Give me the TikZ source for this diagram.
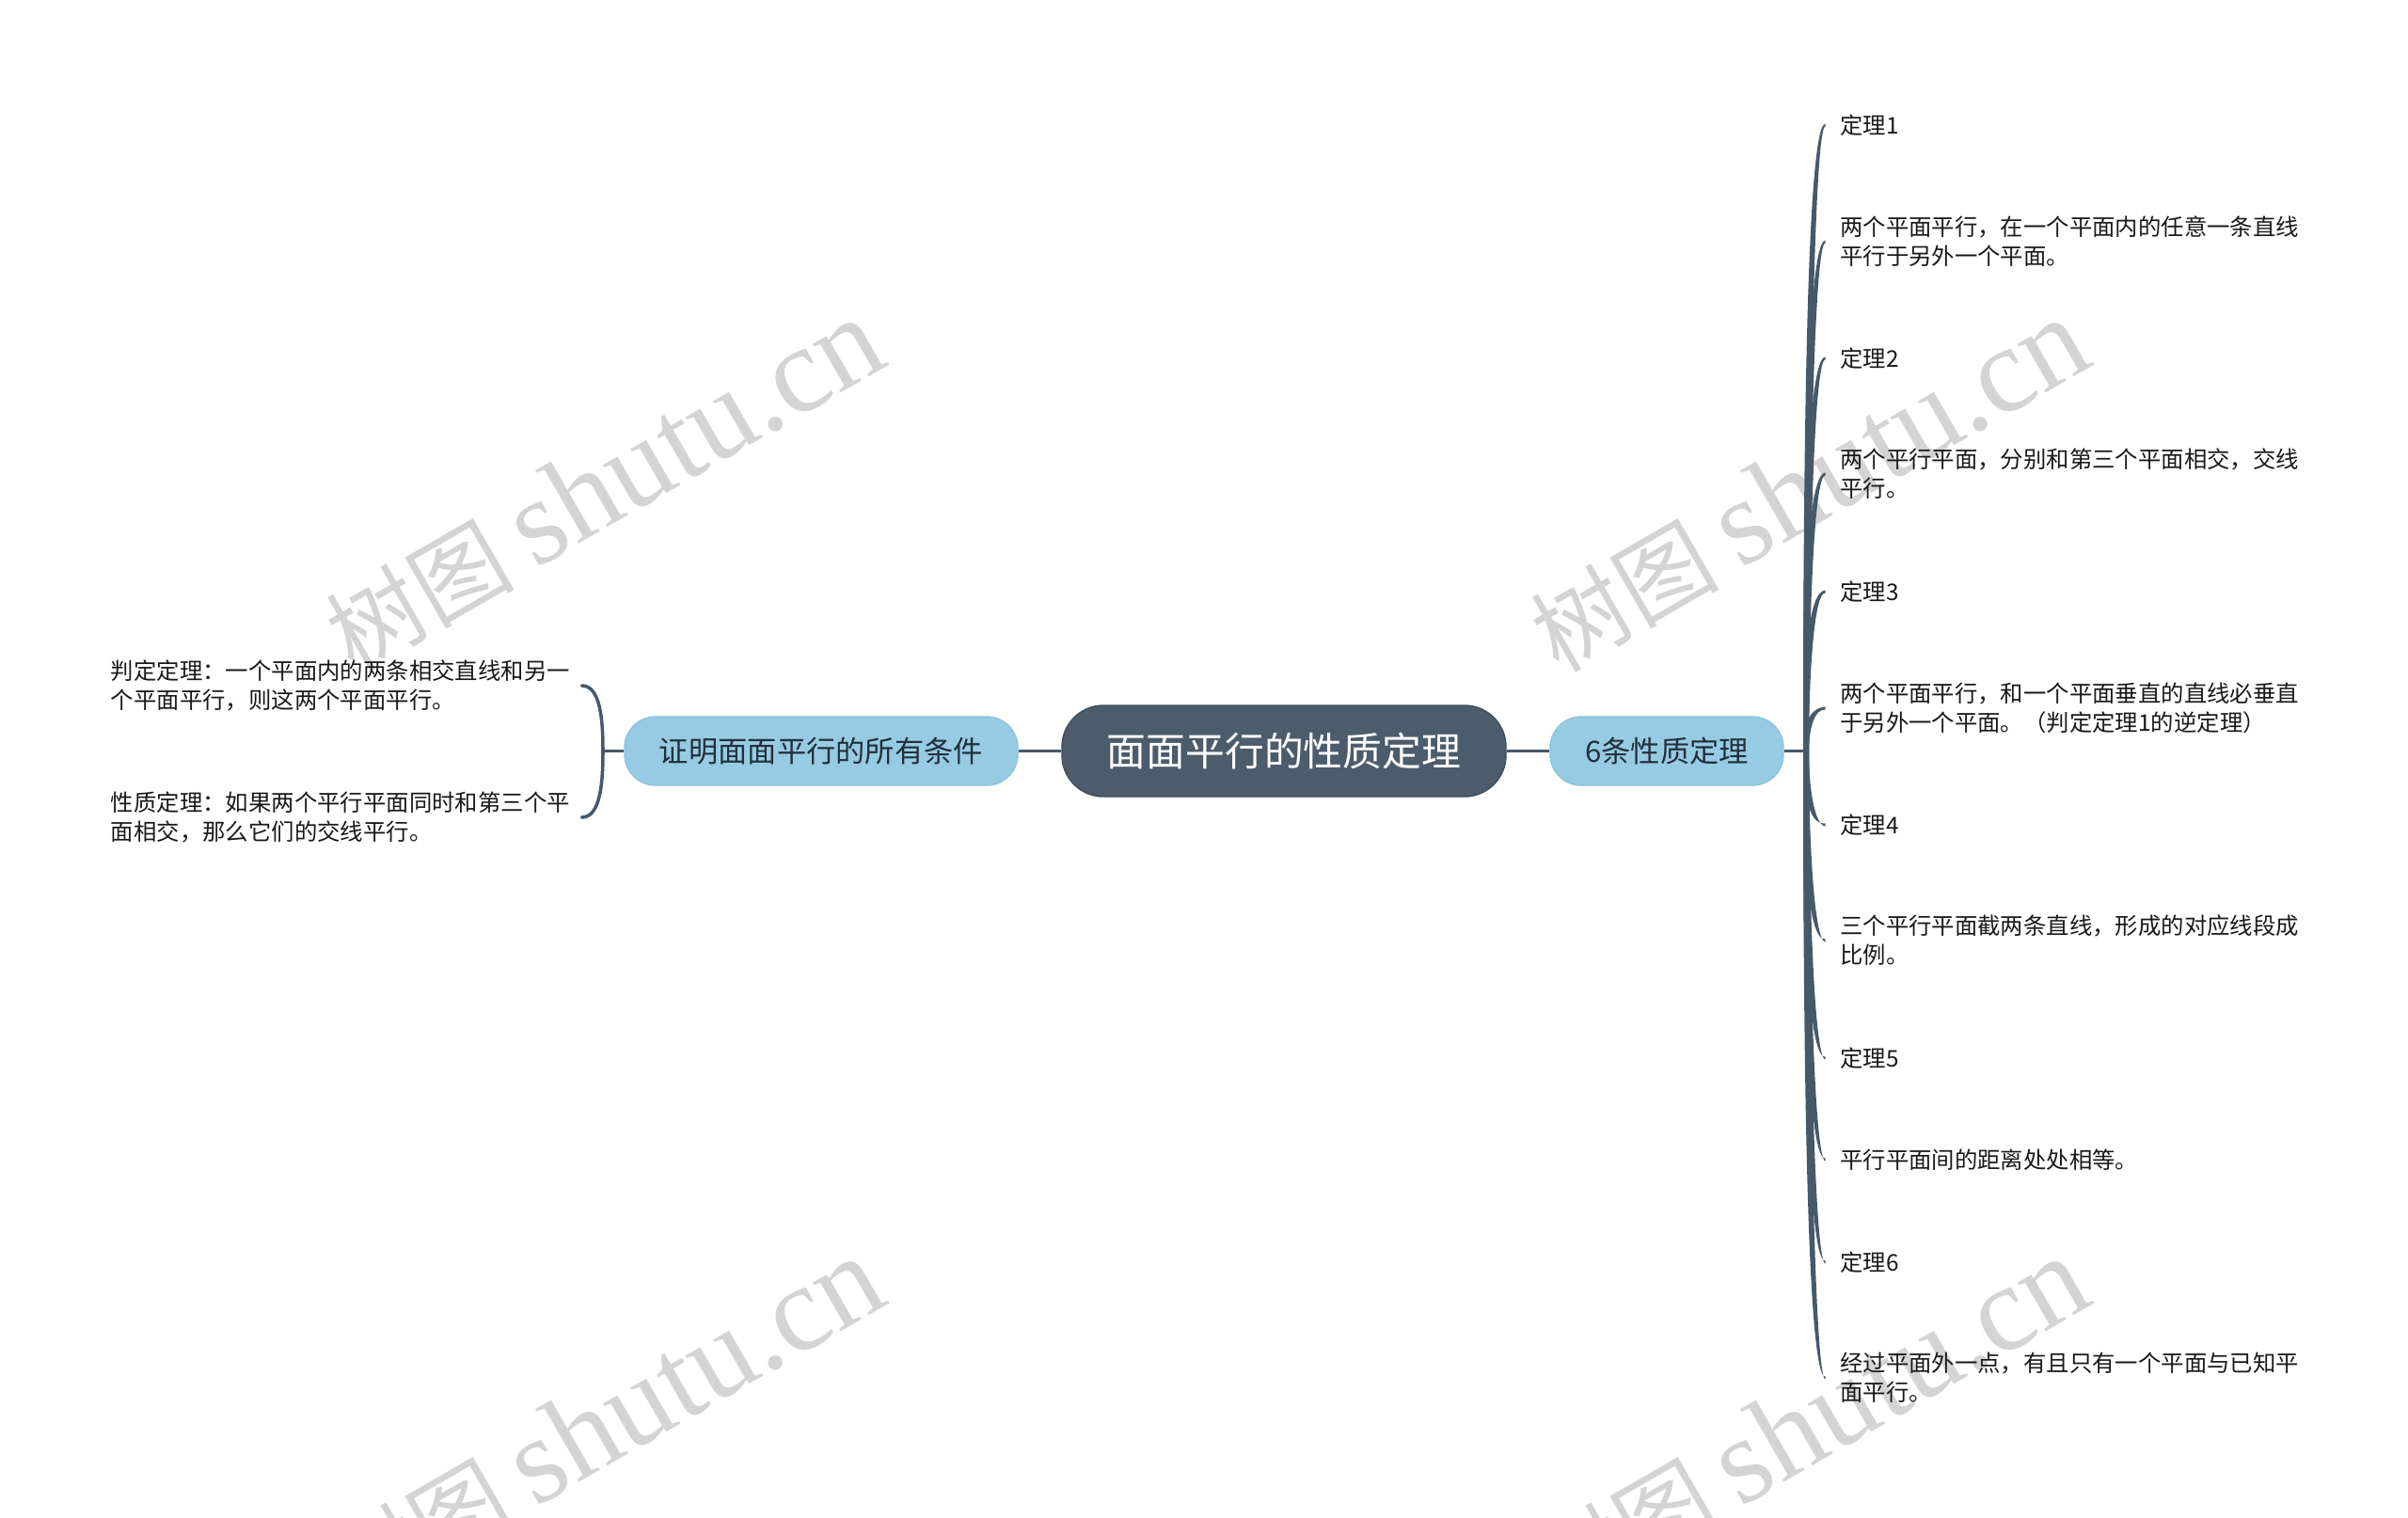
\documentclass[tikz,border=0pt]{standalone}
\usepackage{fontspec}
\setmainfont{Noto Sans CJK SC}
\newfontfamily\markfont{Liberation Serif}
\usetikzlibrary{calc}
\definecolor{slate}{HTML}{4C5C6B}
\definecolor{limbc}{HTML}{46596A}
\definecolor{sky}{HTML}{97CBE3}
\definecolor{skyline}{HTML}{8CC3DC}
\definecolor{inkc}{HTML}{22303C}
\definecolor{markc}{HTML}{D4D4D4}
\begin{document}
\begin{tikzpicture}[
        root/.style = {draw = slate!85!black, fill = slate, text = white, rounded corners = 4.4mm, minimum width = 47.2mm, minimum height = 9.7mm, inner sep = 0mm, font = \fontsize{11.9}{14}\selectfont},
        topic/.style = {draw = skyline, fill = sky, text = inkc, rounded corners = 3.3mm, minimum height = 7.3mm, inner sep = 0mm, font = \fontsize{8.9}{11}\selectfont},
        leaf/.style = {anchor = west, align = left, inner xsep = 1.5mm, inner ysep = 0mm, text = black!90, font = \fontsize{6.94}{8.82}\selectfont},
        leafl/.style = {leaf, anchor = east, inner xsep = 1.2mm},
        wmark/.style = {rotate = 30, text = markc, inner sep = 0mm, font = \fontsize{28.5}{36}\selectfont},
        arr/.style = {draw = limbc, line width = 1pt},
        limb/.style = {fill = limbc, to path = {
                ($(\tikztostart)+(-.03,0)$) .. controls ($(\tikztostart)!.5!(\tikztostart |- \tikztotarget.west)+(-.03,0)$) and ($(\tikztostart |- \tikztotarget.west)+(.01,0)$) .. ($(\tikztotarget.west)+(0,.015)$)
                -- ($(\tikztotarget.west)+(0,-.015)$) .. controls ($(\tikztostart |- \tikztotarget.west)+(.09,0)$) and ($(\tikztostart)!.5!(\tikztostart |- \tikztotarget.west)+(.03,0)$) .. ($(\tikztostart)+(.03,0)$) -- cycle}},
        limbl/.style = {draw = limbc, line width = 1pt, line cap = round, to path = {
                .. controls ($(\tikztostart)!.5!(\tikztostart |- \tikztotarget.east)$) and ($(\tikztostart |- \tikztotarget.east)+(-.03,0)$) .. (\tikztotarget.east)}},
    ]
    \useasboundingbox (0,0) rectangle (25.6,-16.13);

    \begin{scope}
        \clip (0,0) rectangle (25.6,-16.13);
        \node (mark1) [wmark] at (6.42,-5.16) {树图 {\markfont\fontsize{37}{40}\selectfont shutu.cn}};
        \node (mark2) [wmark] at (19.23,-5.16) {树图 {\markfont\fontsize{37}{40}\selectfont shutu.cn}};
        \node (mark3) [wmark] at (6.42,-15.14) {树图 {\markfont\fontsize{37}{40}\selectfont shutu.cn}};
        \node (mark4) [wmark] at (19.23,-15.14) {树图 {\markfont\fontsize{37}{40}\selectfont shutu.cn}};
    \end{scope}

    \node (main) [root] at (13.65,-7.985) {面面平行的性质定理};
    \node (props) [topic, minimum width = 24.8mm] at (17.72,-7.985) {6条性质定理};
    \node (conds) [topic, minimum width = 41.8mm] at (8.73,-7.985) {证明面面平行的所有条件};

    \coordinate (hubr) at (19.2,-7.985);
    \coordinate (hubl) at (6.41,-7.985);

    \node (t1) [leaf] at (19.405,-1.33) {定理1};
    \node (d1) [leaf] at (19.405,-2.57) {两个平面平行，在一个平面内的任意一条直线\\平行于另外一个平面。};
    \node (t2) [leaf] at (19.405,-3.81) {定理2};
    \node (d2) [leaf] at (19.405,-5.04) {两个平行平面，分别和第三个平面相交，交线\\平行。};
    \node (t3) [leaf] at (19.405,-6.29) {定理3};
    \node (d3) [leaf] at (19.405,-7.53) {两个平面平行，和一个平面垂直的直线必垂直\\于另外一个平面。（判定定理1的逆定理）};
    \node (t4) [leaf] at (19.405,-8.77) {定理4};
    \node (d4) [leaf] at (19.405,-10.0) {三个平行平面截两条直线，形成的对应线段成\\比例。};
    \node (t5) [leaf] at (19.405,-11.25) {定理5};
    \node (d5) [leaf] at (19.405,-12.33) {平行平面间的距离处处相等。};
    \node (t6) [leaf] at (19.405,-13.42) {定理6};
    \node (d6) [leaf] at (19.405,-14.65) {经过平面外一点，有且只有一个平面与已知平\\面平行。};

    \node (judge) [leafl] at (6.185,-7.29) {判定定理：一个平面内的两条相交直线和另一\\个平面平行，则这两个平面平行。};
    \node (prop) [leafl] at (6.185,-8.69) {性质定理：如果两个平行平面同时和第三个平\\面相交，那么它们的交线平行。};

    \path[arr] (conds) -- (main);
    \path[arr] (main) -- (props);
    \path[arr] (props) -- (hubr);
    \path[arr] (conds) -- (hubl);

    \path[limb] (hubr) to (t1);
    \path[limb] (hubr) to (d1);
    \path[limb] (hubr) to (t2);
    \path[limb] (hubr) to (d2);
    \path[limb] (hubr) to (t3);
    \path[limb] (hubr) to (d3);
    \path[limb] (hubr) to (t4);
    \path[limb] (hubr) to (d4);
    \path[limb] (hubr) to (t5);
    \path[limb] (hubr) to (d5);
    \path[limb] (hubr) to (t6);
    \path[limb] (hubr) to (d6);

    \path[limbl] (hubl) to (judge);
    \path[limbl] (hubl) to (prop);
\end{tikzpicture}
\end{document}
